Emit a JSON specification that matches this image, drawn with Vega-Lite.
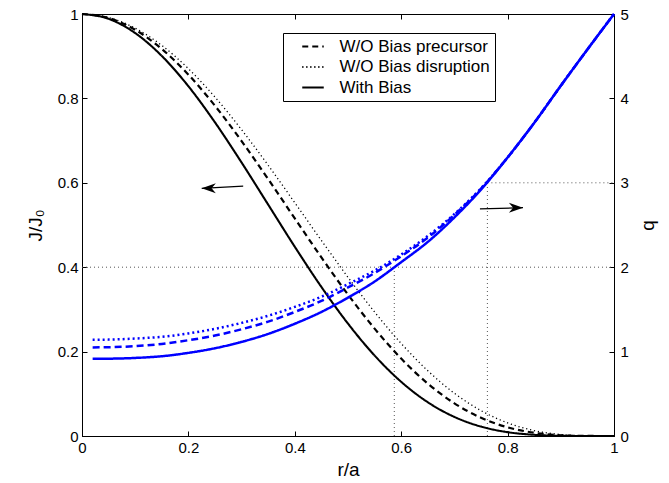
{
  "$schema": "https://vega.github.io/schema/vega-lite/v6.json",
  "width": 532,
  "height": 422,
  "autosize": {"type": "none"},
  "padding": {"left": 82, "top": 14, "right": 55, "bottom": 47},
  "background": "white",
  "config": {
    "view": {"stroke": "black", "strokeWidth": 1},
    "font": "Liberation Sans",
    "axis": {
      "grid": false,
      "domainColor": "black",
      "tickColor": "black",
      "labelColor": "black",
      "titleColor": "black",
      "labelFont": "Liberation Sans",
      "titleFont": "Liberation Sans",
      "labelFontSize": 15,
      "titleFontSize": 19,
      "titleFontWeight": "normal",
      "tickSize": -5,
      "labelPadding": 10,
      "labelFlush": false,
      "domainWidth": 1,
      "tickWidth": 1
    }
  },
  "datasets": {
    "J": [
      {"r": 0, "J": 1, "s": "With Bias"}, {"r": 0.05, "J": 0.9886, "s": "With Bias"}, {"r": 0.1, "J": 0.9548, "s": "With Bias"}, {"r": 0.15, "J": 0.9006, "s": "With Bias"}, {"r": 0.2, "J": 0.8288, "s": "With Bias"}, {"r": 0.25, "J": 0.7431, "s": "With Bias"}, {"r": 0.3, "J": 0.648, "s": "With Bias"}, {"r": 0.35, "J": 0.5482, "s": "With Bias"}, {"r": 0.4, "J": 0.4484, "s": "With Bias"}, {"r": 0.45, "J": 0.3532, "s": "With Bias"}, {"r": 0.5, "J": 0.2663, "s": "With Bias"}, {"r": 0.55, "J": 0.1907, "s": "With Bias"}, {"r": 0.6, "J": 0.1284, "s": "With Bias"}, {"r": 0.65, "J": 0.08, "s": "With Bias"}, {"r": 0.7, "J": 0.0452, "s": "With Bias"}, {"r": 0.75, "J": 0.0223, "s": "With Bias"}, {"r": 0.8, "J": 0.0091, "s": "With Bias"}, {"r": 0.85, "J": 0.0028, "s": "With Bias"}, {"r": 0.9, "J": 0.0005, "s": "With Bias"}, {"r": 0.95, "J": 0.0, "s": "With Bias"}, {"r": 1, "J": 0, "s": "With Bias"},
      {"r": 0, "J": 1, "s": "W/O Bias precursor"}, {"r": 0.05, "J": 0.9905, "s": "W/O Bias precursor"}, {"r": 0.1, "J": 0.9625, "s": "W/O Bias precursor"}, {"r": 0.15, "J": 0.9172, "s": "W/O Bias precursor"}, {"r": 0.2, "J": 0.8563, "s": "W/O Bias precursor"}, {"r": 0.25, "J": 0.7825, "s": "W/O Bias precursor"}, {"r": 0.3, "J": 0.6988, "s": "W/O Bias precursor"}, {"r": 0.35, "J": 0.6086, "s": "W/O Bias precursor"}, {"r": 0.4, "J": 0.5156, "s": "W/O Bias precursor"}, {"r": 0.45, "J": 0.4232, "s": "W/O Bias precursor"}, {"r": 0.5, "J": 0.3351, "s": "W/O Bias precursor"}, {"r": 0.55, "J": 0.2544, "s": "W/O Bias precursor"}, {"r": 0.6, "J": 0.1834, "s": "W/O Bias precursor"}, {"r": 0.65, "J": 0.1241, "s": "W/O Bias precursor"}, {"r": 0.7, "J": 0.0774, "s": "W/O Bias precursor"}, {"r": 0.75, "J": 0.0432, "s": "W/O Bias precursor"}, {"r": 0.8, "J": 0.0206, "s": "W/O Bias precursor"}, {"r": 0.85, "J": 0.0077, "s": "W/O Bias precursor"}, {"r": 0.9, "J": 0.0018, "s": "W/O Bias precursor"}, {"r": 0.95, "J": 0.0001, "s": "W/O Bias precursor"}, {"r": 1, "J": 0, "s": "W/O Bias precursor"},
      {"r": 0, "J": 1, "s": "W/O Bias disruption"}, {"r": 0.05, "J": 0.9915, "s": "W/O Bias disruption"}, {"r": 0.1, "J": 0.9664, "s": "W/O Bias disruption"}, {"r": 0.15, "J": 0.9255, "s": "W/O Bias disruption"}, {"r": 0.2, "J": 0.8704, "s": "W/O Bias disruption"}, {"r": 0.25, "J": 0.803, "s": "W/O Bias disruption"}, {"r": 0.3, "J": 0.7257, "s": "W/O Bias disruption"}, {"r": 0.35, "J": 0.6413, "s": "W/O Bias disruption"}, {"r": 0.4, "J": 0.5528, "s": "W/O Bias disruption"}, {"r": 0.45, "J": 0.4633, "s": "W/O Bias disruption"}, {"r": 0.5, "J": 0.376, "s": "W/O Bias disruption"}, {"r": 0.55, "J": 0.2938, "s": "W/O Bias disruption"}, {"r": 0.6, "J": 0.2193, "s": "W/O Bias disruption"}, {"r": 0.65, "J": 0.1546, "s": "W/O Bias disruption"}, {"r": 0.7, "J": 0.1013, "s": "W/O Bias disruption"}, {"r": 0.75, "J": 0.0602, "s": "W/O Bias disruption"}, {"r": 0.8, "J": 0.031, "s": "W/O Bias disruption"}, {"r": 0.85, "J": 0.0128, "s": "W/O Bias disruption"}, {"r": 0.9, "J": 0.0035, "s": "W/O Bias disruption"}, {"r": 0.95, "J": 0.0004, "s": "W/O Bias disruption"}, {"r": 1, "J": 0, "s": "W/O Bias disruption"}
    ],
    "q": [
      {"r": 0.02, "q": 0.915, "s": "With Bias"}, {"r": 0.05, "q": 0.916, "s": "With Bias"}, {"r": 0.1, "q": 0.925, "s": "With Bias"}, {"r": 0.15, "q": 0.945, "s": "With Bias"}, {"r": 0.2, "q": 0.985, "s": "With Bias"}, {"r": 0.25, "q": 1.04, "s": "With Bias"}, {"r": 0.3, "q": 1.115, "s": "With Bias"}, {"r": 0.35, "q": 1.21, "s": "With Bias"}, {"r": 0.4, "q": 1.33, "s": "With Bias"}, {"r": 0.45, "q": 1.47, "s": "With Bias"}, {"r": 0.5, "q": 1.64, "s": "With Bias"}, {"r": 0.55, "q": 1.83, "s": "With Bias"}, {"r": 0.6, "q": 2.06, "s": "With Bias"}, {"r": 0.65, "q": 2.3, "s": "With Bias"}, {"r": 0.7, "q": 2.59, "s": "With Bias"}, {"r": 0.75, "q": 2.92, "s": "With Bias"}, {"r": 0.8, "q": 3.3, "s": "With Bias"}, {"r": 0.85, "q": 3.71, "s": "With Bias"}, {"r": 0.9, "q": 4.15, "s": "With Bias"}, {"r": 0.95, "q": 4.58, "s": "With Bias"}, {"r": 1, "q": 5, "s": "With Bias"},
      {"r": 0.02, "q": 1.05, "s": "W/O Bias precursor"}, {"r": 0.05, "q": 1.052, "s": "W/O Bias precursor"}, {"r": 0.1, "q": 1.065, "s": "W/O Bias precursor"}, {"r": 0.15, "q": 1.09, "s": "W/O Bias precursor"}, {"r": 0.2, "q": 1.135, "s": "W/O Bias precursor"}, {"r": 0.25, "q": 1.19, "s": "W/O Bias precursor"}, {"r": 0.3, "q": 1.265, "s": "W/O Bias precursor"}, {"r": 0.35, "q": 1.355, "s": "W/O Bias precursor"}, {"r": 0.4, "q": 1.47, "s": "W/O Bias precursor"}, {"r": 0.45, "q": 1.6, "s": "W/O Bias precursor"}, {"r": 0.5, "q": 1.76, "s": "W/O Bias precursor"}, {"r": 0.55, "q": 1.93, "s": "W/O Bias precursor"}, {"r": 0.6, "q": 2.13, "s": "W/O Bias precursor"}, {"r": 0.65, "q": 2.35, "s": "W/O Bias precursor"}, {"r": 0.7, "q": 2.62, "s": "W/O Bias precursor"}, {"r": 0.75, "q": 2.93, "s": "W/O Bias precursor"}, {"r": 0.8, "q": 3.3, "s": "W/O Bias precursor"}, {"r": 0.85, "q": 3.71, "s": "W/O Bias precursor"}, {"r": 0.9, "q": 4.15, "s": "W/O Bias precursor"}, {"r": 0.95, "q": 4.58, "s": "W/O Bias precursor"}, {"r": 1, "q": 5, "s": "W/O Bias precursor"},
      {"r": 0.02, "q": 1.14, "s": "W/O Bias disruption"}, {"r": 0.05, "q": 1.142, "s": "W/O Bias disruption"}, {"r": 0.1, "q": 1.155, "s": "W/O Bias disruption"}, {"r": 0.15, "q": 1.175, "s": "W/O Bias disruption"}, {"r": 0.2, "q": 1.215, "s": "W/O Bias disruption"}, {"r": 0.25, "q": 1.27, "s": "W/O Bias disruption"}, {"r": 0.3, "q": 1.34, "s": "W/O Bias disruption"}, {"r": 0.35, "q": 1.425, "s": "W/O Bias disruption"}, {"r": 0.4, "q": 1.53, "s": "W/O Bias disruption"}, {"r": 0.45, "q": 1.65, "s": "W/O Bias disruption"}, {"r": 0.5, "q": 1.8, "s": "W/O Bias disruption"}, {"r": 0.55, "q": 1.96, "s": "W/O Bias disruption"}, {"r": 0.6, "q": 2.15, "s": "W/O Bias disruption"}, {"r": 0.65, "q": 2.37, "s": "W/O Bias disruption"}, {"r": 0.7, "q": 2.63, "s": "W/O Bias disruption"}, {"r": 0.75, "q": 2.935, "s": "W/O Bias disruption"}, {"r": 0.8, "q": 3.3, "s": "W/O Bias disruption"}, {"r": 0.85, "q": 3.71, "s": "W/O Bias disruption"}, {"r": 0.9, "q": 4.15, "s": "W/O Bias disruption"}, {"r": 0.95, "q": 4.58, "s": "W/O Bias disruption"}, {"r": 1, "q": 5, "s": "W/O Bias disruption"}
    ],
    "refs": [
      {"x": 0, "x2": 1, "y": 0.4, "y2": 0.4},
      {"x": 0.587, "x2": 0.587, "y": 0, "y2": 0.4},
      {"x": 0.762, "x2": 1, "y": 0.6, "y2": 0.6},
      {"x": 0.762, "x2": 0.762, "y": 0, "y2": 0.6}
    ],
    "arrows": [
      {"x": 0.303, "y": 0.592, "x2": 0.225, "y2": 0.587, "dir": "left"},
      {"x": 0.748, "y": 0.538, "x2": 0.829, "y2": 0.541, "dir": "right"}
    ]
  },
  "layer": [
    {
      "data": {"name": "refs"},
      "mark": {"type": "rule", "color": "#555555", "strokeDash": [1, 3], "strokeWidth": 1},
      "encoding": {
        "x": {"field": "x", "type": "quantitative", "scale": {"domain": [0, 1], "nice": false}, "axis": null},
        "x2": {"field": "x2"},
        "y": {"field": "y", "type": "quantitative", "scale": {"domain": [0, 1], "nice": false}, "axis": null},
        "y2": {"field": "y2"}
      }
    },
    {
      "data": {"name": "J"},
      "mark": {"type": "line", "color": "black", "interpolate": "monotone"},
      "encoding": {
        "x": {"field": "r", "type": "quantitative", "scale": {"domain": [0, 1], "nice": false},
          "axis": {"orient": "bottom", "title": "r/a", "values": [0, 0.2, 0.4, 0.6, 0.8, 1], "format": "~g", "labelPadding": 9, "titlePadding": 5}},
        "y": {"field": "J", "type": "quantitative", "scale": {"domain": [0, 1], "nice": false},
          "axis": {"orient": "left", "title": "J/J₀", "values": [0, 0.2, 0.4, 0.6, 0.8, 1], "format": "~g", "labelPadding": 9, "titlePadding": 12}},
        "strokeDash": {"field": "s", "type": "nominal",
          "scale": {"domain": ["W/O Bias precursor", "W/O Bias disruption", "With Bias"], "range": [[6, 4], [1.2, 2.8], [1, 0]]},
          "legend": {"title": null, "orient": "none", "legendX": 201, "legendY": 19, "strokeColor": "black", "fillColor": "white", "padding": 5, "symbolType": "M-2.15,0L2.15,0", "symbolSize": 100, "symbolOffset": 16.5, "symbolStrokeWidth": 2, "symbolStrokeColor": "black", "labelFontSize": 17, "labelFont": "Liberation Sans", "labelColor": "black", "rowPadding": 2.5, "labelOffset": 18, "cornerRadius": 0}},
        "strokeWidth": {"field": "s", "type": "nominal",
          "scale": {"type": "ordinal", "domain": ["W/O Bias precursor", "W/O Bias disruption", "With Bias"], "range": [2.2, 1.3, 2.1]}, "legend": null}
      }
    },
    {
      "data": {"name": "arrows"},
      "mark": {"type": "rule", "color": "black", "strokeWidth": 1.2},
      "encoding": {
        "x": {"field": "x", "type": "quantitative", "scale": {"domain": [0, 1], "nice": false}, "axis": null},
        "x2": {"field": "x2"},
        "y": {"field": "y", "type": "quantitative", "scale": {"domain": [0, 1], "nice": false}, "axis": null},
        "y2": {"field": "y2"}
      }
    },
    {
      "data": {"name": "arrows"},
      "mark": {"type": "point", "filled": true, "color": "black", "opacity": 1, "size": 200},
      "encoding": {
        "x": {"field": "x2", "type": "quantitative", "scale": {"domain": [0, 1], "nice": false}, "axis": null},
        "y": {"field": "y2", "type": "quantitative", "scale": {"domain": [0, 1], "nice": false}, "axis": null},
        "shape": {"field": "dir", "type": "nominal",
          "scale": {"domain": ["left", "right"], "range": ["M0,0L2,-0.7L1.4,0L2,0.7Z", "M0,0L-2,-0.7L-1.4,0L-2,0.7Z"]}, "legend": null}
      }
    },
    {
      "data": {"name": "q"},
      "mark": {"type": "line", "color": "#0000ff", "interpolate": "monotone", "strokeWidth": 2.5},
      "encoding": {
        "x": {"field": "r", "type": "quantitative", "scale": {"domain": [0, 1], "nice": false},
          "axis": {"orient": "top", "title": null, "labels": false, "values": [0, 0.2, 0.4, 0.6, 0.8, 1]}},
        "y": {"field": "q", "type": "quantitative", "scale": {"domain": [0, 5], "nice": false},
          "axis": {"orient": "right", "title": "q", "values": [0, 1, 2, 3, 4, 5], "format": "~g", "labelPadding": 11, "titleAngle": 270, "titleBaseline": "top", "titlePadding": 10}},
        "strokeDash": {"field": "s", "type": "nominal",
          "scale": {"domain": ["W/O Bias precursor", "W/O Bias disruption", "With Bias"], "range": [[7, 4], [2, 3], [1, 0]]}, "legend": null}
      }
    }
  ],
  "resolve": {"scale": {"y": "independent", "strokeDash": "independent"}, "axis": {"x": "independent"}}
}
